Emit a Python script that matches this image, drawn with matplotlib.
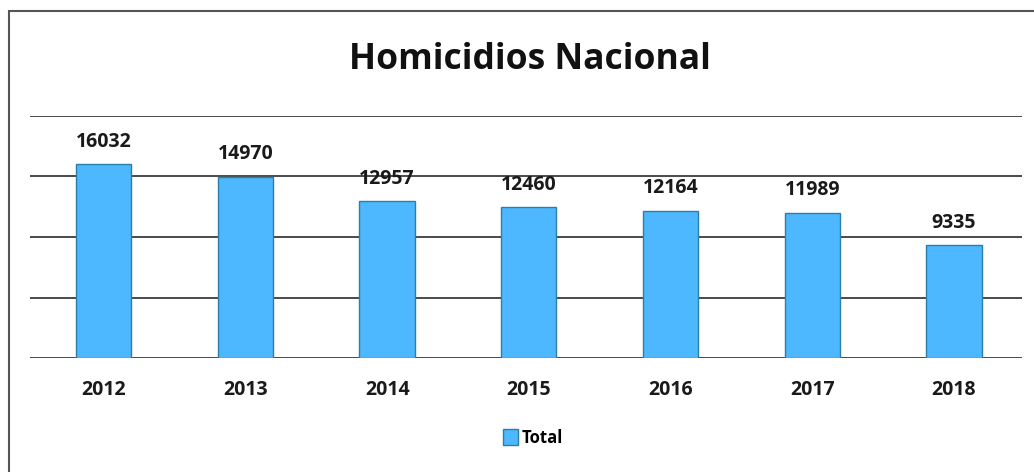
import matplotlib.pyplot as plt
from matplotlib.patches import Rectangle, Patch

# Homicidios por año, total nacional
anios = ['2012', '2013', '2014', '2015', '2016', '2017', '2018']
total = [16032, 14970, 12957, 12460, 12164, 11989, 9335]

plt.rcParams['font.family'] = ['Open Sans', 'DejaVu Sans']

fig = plt.figure(figsize=(10.34, 4.72), dpi=100)
ax = fig.add_axes([30 / 1034, 1 - 358 / 472, 992 / 1034, 242 / 472])

x = range(len(anios))
barras = ax.bar(x, total, width=0.39, color='#4DB8FF', edgecolor='#2B7EA6',
                linewidth=1, zorder=3, label='Total')
ax.bar_label(barras, labels=[str(v) for v in total], padding=9,
             fontsize=14, fontweight='bold', color='#1a1a1a')

ax.set_xlim(-0.52, len(anios) - 0.52)
ax.set_ylim(0, 20000)
ax.set_yticks([0, 5000, 10000, 15000, 20000])
ax.set_yticklabels([])
ax.set_xticks(list(x))
ax.set_xticklabels(anios, fontsize=14, fontweight='bold', color='#1a1a1a')
ax.tick_params(axis='both', length=0)
ax.tick_params(axis='x', pad=16)
ax.grid(axis='y', color='#4a4a4a', linewidth=1.4, zorder=0)
for s in ax.spines.values():
    s.set_visible(False)

fig.text(530 / 1034, 1 - 60 / 472, 'Homicidios Nacional', ha='center',
         va='center', fontsize=25.5, fontweight='bold', color='#111111')

leyenda = ax.legend(handles=[Patch(facecolor='#4DB8FF', edgecolor='#2B7EA6', label='Total')],
                    loc='center', bbox_to_anchor=(533 / 1034, 1 - 438 / 472),
                    bbox_transform=fig.transFigure, frameon=False,
                    handlelength=0.9, handleheight=1.1, handletextpad=0.2,
                    prop={'size': 12, 'weight': 'bold'})

# marco exterior
fig.patches.append(Rectangle((9 / 1034, -0.1), 1.2, 1 - 11 / 472 + 0.1,
                             transform=fig.transFigure, fill=False,
                             edgecolor='#555555', linewidth=1.5))

fig.savefig('out.png', dpi=100)
